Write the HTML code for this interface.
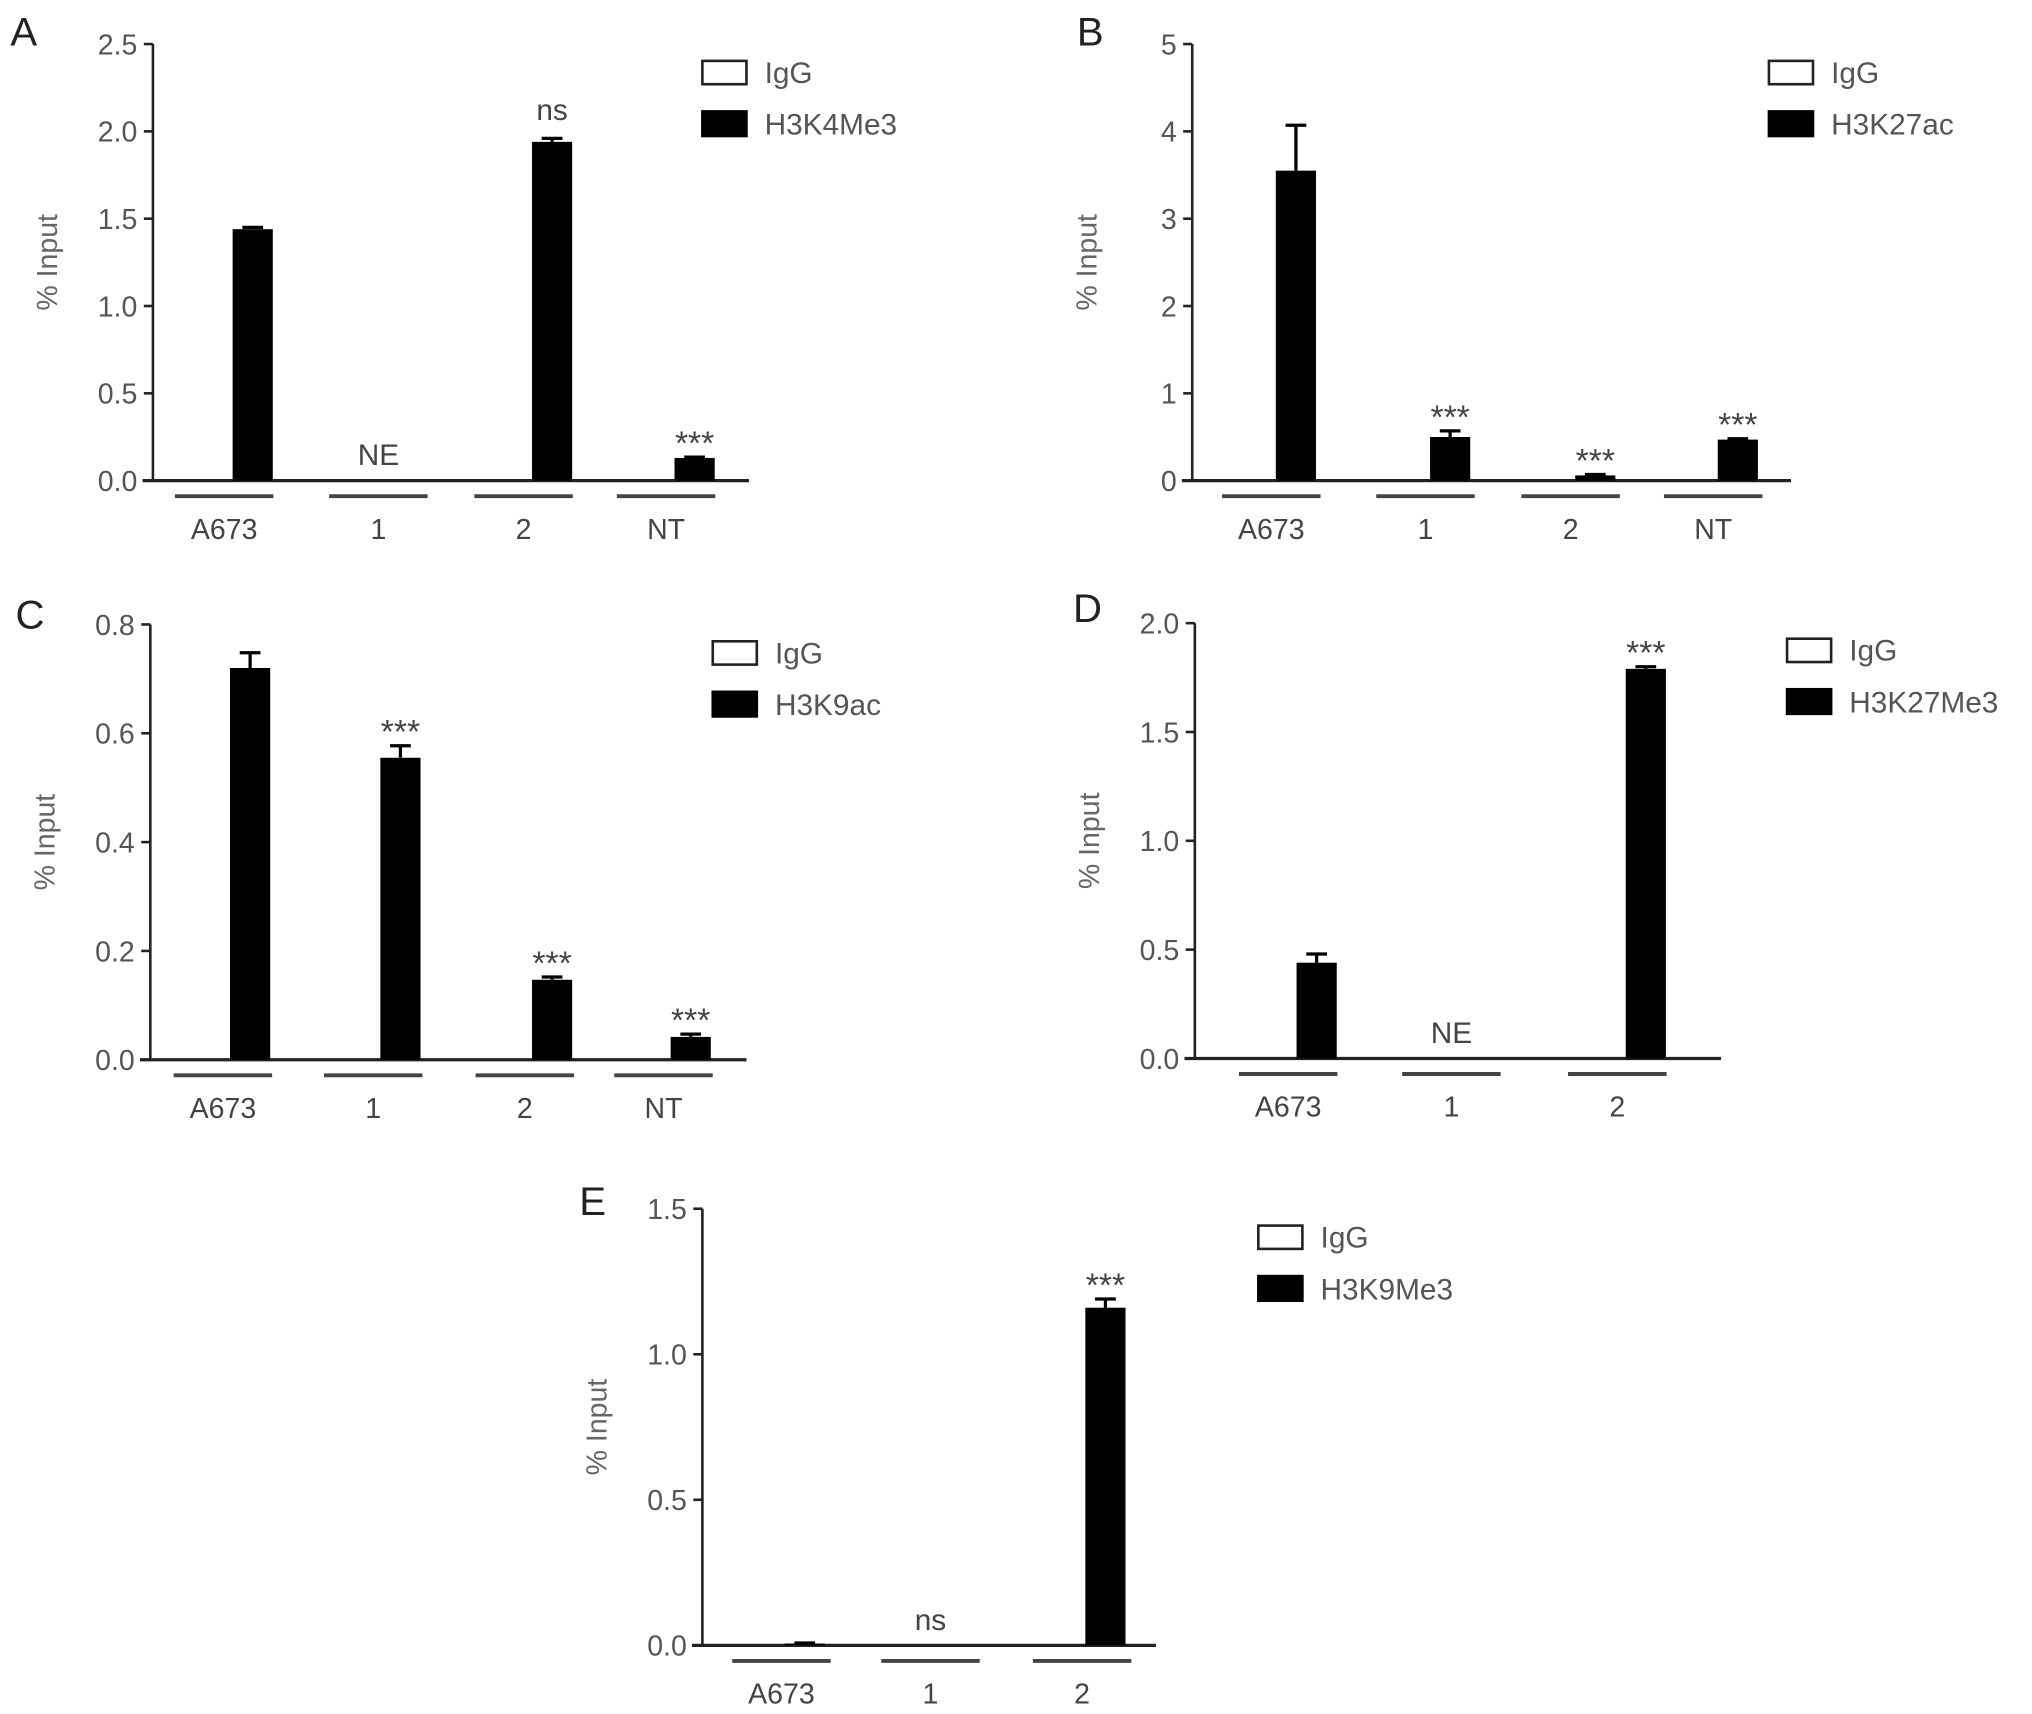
<!DOCTYPE html>
<html><head><meta charset="utf-8"><style>
html,body{margin:0;padding:0;background:#fff;}
svg{display:block;}
text{font-family:"Liberation Sans",sans-serif;}
</style></head><body>
<svg id="fig" xmlns="http://www.w3.org/2000/svg" width="2032" height="1714" viewBox="0 0 1568 1323" preserveAspectRatio="none"></svg>
<script>
// ---- data ----
const aCategories=["A673","1","2","NT"];
const aValues=[1.44,null,1.94,0.13];
const aErrors=[1.45,null,1.96,0.135];
const aAnnot=["","NE","ns","***"];
const aTicks=["0.0","0.5","1.0","1.5","2.0","2.5"];
const aTickValues=[0,0.5,1,1.5,2,2.5];

const bCategories=["A673","1","2","NT"];
const bValues=[3.55,0.5,0.06,0.47];
const bErrors=[4.07,0.57,0.07,0.48];
const bAnnot=["","***","***","***"];
const bTicks=["0","1","2","3","4","5"];
const bTickValues=[0,1,2,3,4,5];

const cCategories=["A673","1","2","NT"];
const cValues=[0.72,0.555,0.147,0.042];
const cErrors=[0.748,0.577,0.152,0.047];
const cAnnot=["","***","***","***"];
const cTicks=["0.0","0.2","0.4","0.6","0.8"];
const cTickValues=[0,0.2,0.4,0.6,0.8];

const dCategories=["A673","1","2"];
const dValues=[0.44,null,1.79];
const dErrors=[0.48,null,1.80];
const dAnnot=["","NE","***"];
const dTicks=["0.0","0.5","1.0","1.5","2.0"];
const dTickValues=[0,0.5,1,1.5,2];

const eCategories=["A673","1","2"];
const eValues=[0.006,null,1.16];
const eErrors=[0.008,null,1.19];
const eAnnot=["","ns","***"];
const eTicks=["0.0","0.5","1.0","1.5"];
const eTickValues=[0,0.5,1,1.5];

const legendLabels=["H3K4Me3","H3K27ac","H3K9ac","H3K27Me3","H3K9Me3"];

// ---- layout ----
const svg=document.getElementById('fig');
const NS='http://www.w3.org/2000/svg';
function mk(tag,attrs,parent){const e=document.createElementNS(NS,tag);for(const k in attrs)e.setAttribute(k,attrs[k]);(parent||svg).appendChild(e);return e;}

function panel(p){
  const g=mk('g',{});
  
  
  const yScale=v=>p.y0-(v/p.yMax)*(p.y0-p.yTop);
  const lt=mk('text',{x:p.lx,y:p.ly,'font-size':31,fill:'#222'},g);lt.textContent=p.letter;
  
  
  const ax=mk('line',{x1:p.ax,y1:p.yTop,x2:p.ax,y2:p.y0,stroke:'#222','stroke-width':2},g);
  
  
  const xa=mk('line',{x1:p.ax-8,y1:p.y0,x2:p.xEnd,y2:p.y0,stroke:'#222','stroke-width':2.5},g);
  
  
  p.tickValues.forEach((tv,i)=>{
    const y=yScale(tv);
    const tk=mk('line',{x1:p.ax-7,y1:y,x2:p.ax,y2:y,stroke:'#222','stroke-width':2},g);
    
    
    const t=mk('text',{x:p.ax-12,y:y+8,'font-size':22,fill:'#555','text-anchor':'end'},g);
    t.textContent=p.ticks[i];
    
    
  });
  const ymid=(p.yTop+p.y0)/2;
  const yt=mk('text',{x:0,y:0,'font-size':22,fill:'#666','text-anchor':'middle',transform:`translate(${p.ax-74},${ymid}) rotate(-90)`},g);
  yt.textContent='% Input';
  
  
  p.cats.forEach((c,i)=>{
    const cx=p.gc[i];
    const gl=mk('line',{x1:cx-38,y1:p.y0+12,x2:cx+38,y2:p.y0+12,stroke:'#444','stroke-width':3},g);
    
    
    const tl=mk('text',{x:cx,y:p.y0+45,'font-size':22,fill:'#444','text-anchor':'middle'},g);
    tl.textContent=c;
    
    
    const bx=cx+p.off;
    let topY=null;
    if(p.vals[i]!==null){
      const yv=yScale(p.vals[i]);
      const ye=yScale(p.errs[i]);
      const b=mk('rect',{x:bx-15.5,y:yv,width:31,height:p.y0-yv,fill:'#000'},g);
      
      
      const el=mk('path',{d:`M${bx},${yv} V${ye} M${bx-8},${ye} H${bx+8}`,stroke:'#000','stroke-width':2.5,fill:'none'},g);
      
      
      topY=ye;
    }
    if(p.annot[i]){
      const stars=p.annot[i]==='***';
      const x=topY===null?cx:bx;
      const y=topY===null?p.y0-12:topY-(stars?10:14);
      const an=mk('text',{x:x,y:stars?y+8:y,'font-size':stars?26:23,fill:'#444','text-anchor':'middle'},g);
      an.textContent=p.annot[i];
      
      
    }
  });
  const r1=mk('rect',{x:p.legX,y:p.legY,width:34,height:18,fill:'#fff',stroke:'#222','stroke-width':2},g);
  
  
  const t1=mk('text',{x:p.legX+48,y:p.legY+17,'font-size':23,fill:'#555'},g);t1.textContent='IgG';
  
  
  const r2=mk('rect',{x:p.legX-1,y:p.legY+38,width:36,height:21,fill:'#000'},g);
  
  
  const t2=mk('text',{x:p.legX+48,y:p.legY+57,'font-size':23,fill:'#555'},g);t2.textContent=p.legend;
  
  
}

panel({letter:'A',lx:8,ly:35,ax:118,yTop:34,y0:371,yMax:2.5,xEnd:578,gc:[173,292,404,514],off:22,
  cats:aCategories,vals:aValues,errs:aErrors,annot:aAnnot,ticks:aTicks,tickValues:aTickValues,legX:542,legY:47,legend:legendLabels[0]});
panel({letter:'B',lx:831,ly:35,ax:920,yTop:34,y0:371,yMax:5,xEnd:1382,gc:[981,1100,1212,1322],off:19,
  cats:bCategories,vals:bValues,errs:bErrors,annot:bAnnot,ticks:bTicks,tickValues:bTickValues,legX:1365,legY:47,legend:legendLabels[1]});
panel({letter:'C',lx:12,ly:485,ax:116,yTop:482,y0:818,yMax:0.8,xEnd:576,gc:[172,288,405,512],off:21,
  cats:cCategories,vals:cValues,errs:cErrors,annot:cAnnot,ticks:cTicks,tickValues:cTickValues,legX:550,legY:495,legend:legendLabels[2]});
panel({letter:'D',lx:828,ly:480,ax:922,yTop:481,y0:817,yMax:2,xEnd:1328,gc:[994,1120,1248],off:22,
  cats:dCategories,vals:dValues,errs:dErrors,annot:dAnnot,ticks:dTicks,tickValues:dTickValues,legX:1379,legY:493,legend:legendLabels[3]});
panel({letter:'E',lx:447,ly:938,ax:542,yTop:933,y0:1270,yMax:1.5,xEnd:892,gc:[603,718,835],off:18,
  cats:eCategories,vals:eValues,errs:eErrors,annot:eAnnot,ticks:eTicks,tickValues:eTickValues,legX:971,legY:946,legend:legendLabels[4]});
</script>
</body></html>
